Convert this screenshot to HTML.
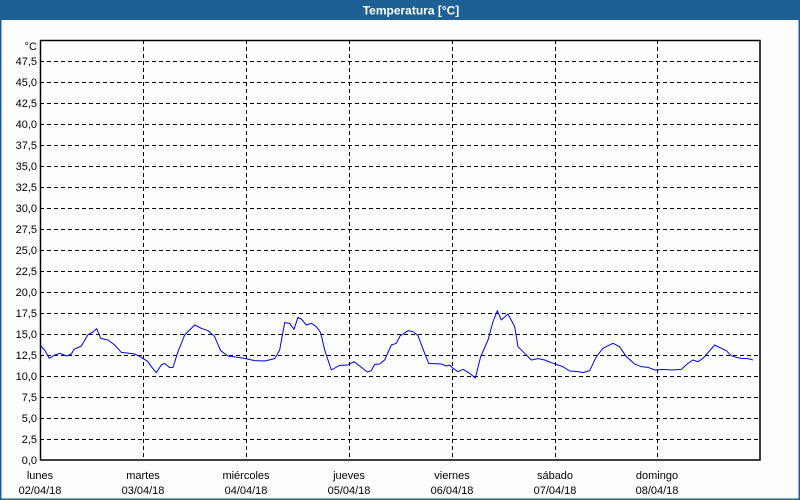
<!DOCTYPE html>
<html><head><meta charset="utf-8"><style>
html,body{margin:0;padding:0;background:#fdfffd;}
svg{display:block;font-family:"Liberation Sans","DejaVu Sans",sans-serif;}
</style></head><body>
<svg width="800" height="500" viewBox="0 0 800 500" xmlns="http://www.w3.org/2000/svg">
<rect x="0" y="0" width="800" height="500" fill="#fdfffd"/>
<rect x="0" y="0" width="800" height="20" fill="#1c6096"/>
<rect x="0" y="20" width="1.5" height="480" fill="#1c6096"/>
<rect x="798.5" y="20" width="1.5" height="480" fill="#1c6096"/>
<rect x="0" y="498.5" width="800" height="1.5" fill="#1c6096"/>
<text x="411" y="14.5" fill="#fff" font-size="12" font-weight="bold" text-anchor="middle">Temperatura [°C]</text>
<g stroke="#000" stroke-width="1" stroke-dasharray="4,3" fill="none">
<path d="M40 61.5H760M40 82.5H760M40 103.5H760M40 124.5H760M40 145.5H760M40 166.5H760M40 187.5H760M40 208.5H760M40 229.5H760M40 250.5H760M40 271.5H760M40 292.5H760M40 313.5H760M40 334.5H760M40 355.5H760M40 376.5H760M40 397.5H760M40 418.5H760M40 439.5H760"/>
<path d="M143.5 40V460M246.5 40V460M349.5 40V460M452.5 40V460M555.5 40V460M657.5 40V460"/>
</g>
<rect x="40.5" y="40.5" width="719.5" height="419.5" fill="none" stroke="#000" stroke-width="1.5"/>
<g font-size="11" fill="#000" text-anchor="end">
<text x="37" y="50">°C</text>
<text x="37" y="65">47,5</text><text x="37" y="86">45,0</text><text x="37" y="107">42,5</text><text x="37" y="128">40,0</text><text x="37" y="149">37,5</text><text x="37" y="170">35,0</text><text x="37" y="191">32,5</text><text x="37" y="212">30,0</text><text x="37" y="233">27,5</text><text x="37" y="254">25,0</text><text x="37" y="275">22,5</text><text x="37" y="296">20,0</text><text x="37" y="317">17,5</text><text x="37" y="338">15,0</text><text x="37" y="359">12,5</text><text x="37" y="380">10,0</text><text x="37" y="401">7,5</text><text x="37" y="422">5,0</text><text x="37" y="443">2,5</text><text x="37" y="464">0,0</text>
</g>
<g font-size="11" fill="#000" text-anchor="middle">
<text x="40" y="479">lunes</text><text x="40" y="494">02/04/18</text>
<text x="143" y="479">martes</text><text x="143" y="494">03/04/18</text>
<text x="246" y="479">miércoles</text><text x="246" y="494">04/04/18</text>
<text x="349" y="479">jueves</text><text x="349" y="494">05/04/18</text>
<text x="452" y="479">viernes</text><text x="452" y="494">06/04/18</text>
<text x="555" y="479">sábado</text><text x="555" y="494">07/04/18</text>
<text x="657" y="479">domingo</text><text x="657" y="494">08/04/18</text>
</g>
<g fill="none" stroke="#0000ee" stroke-width="1" stroke-linejoin="round">
<g transform="translate(38,300) scale(0.33333)">
<polyline vector-effect="non-scaling-stroke" points="8,138 20,150 34,175 50,165 66,160 86,168 100,162 108,148 130,138 150,104 165,96 176,86 188,115 210,120 230,135 250,157 290,162 310,172 330,185 340,200 355,218 370,195 380,190 395,203 405,202 420,155 440,105 470,75 490,85 510,92 530,110 548,152 570,168 600,172 620,175 650,182 680,183 710,176 725,150 740,68 755,70 768,88 780,52 790,57 805,75 820,70 835,80 848,98 860,150 880,210 905,196 930,195 948,185 965,198 988,216 1000,212 1010,193 1025,192 1040,180 1060,135 1075,130 1086,108 1110,92 1125,95 1140,107 1160,160 1172,190 1210,192 1225,198 1235,195 1245,205 1260,215 1275,208 1295,220 1312,234 1328,170 1350,120 1365,65 1378,32 1390,60 1410,42 1430,80 1440,140 1455,155 1480,180 1500,176 1520,180 1540,188 1560,195 1575,200 1595,213 1620,215 1635,218 1655,212 1675,170 1695,145 1725,130 1745,140 1765,170 1790,192 1810,200 1830,202 1850,210 1875,208 1900,210 1930,208 1950,190 1965,180 1980,185 1995,175 2030,135 2050,145 2065,152 2080,167 2095,172 2110,175 2130,176 2145,180"/>
</g>
</g>
</svg>
</body></html>
